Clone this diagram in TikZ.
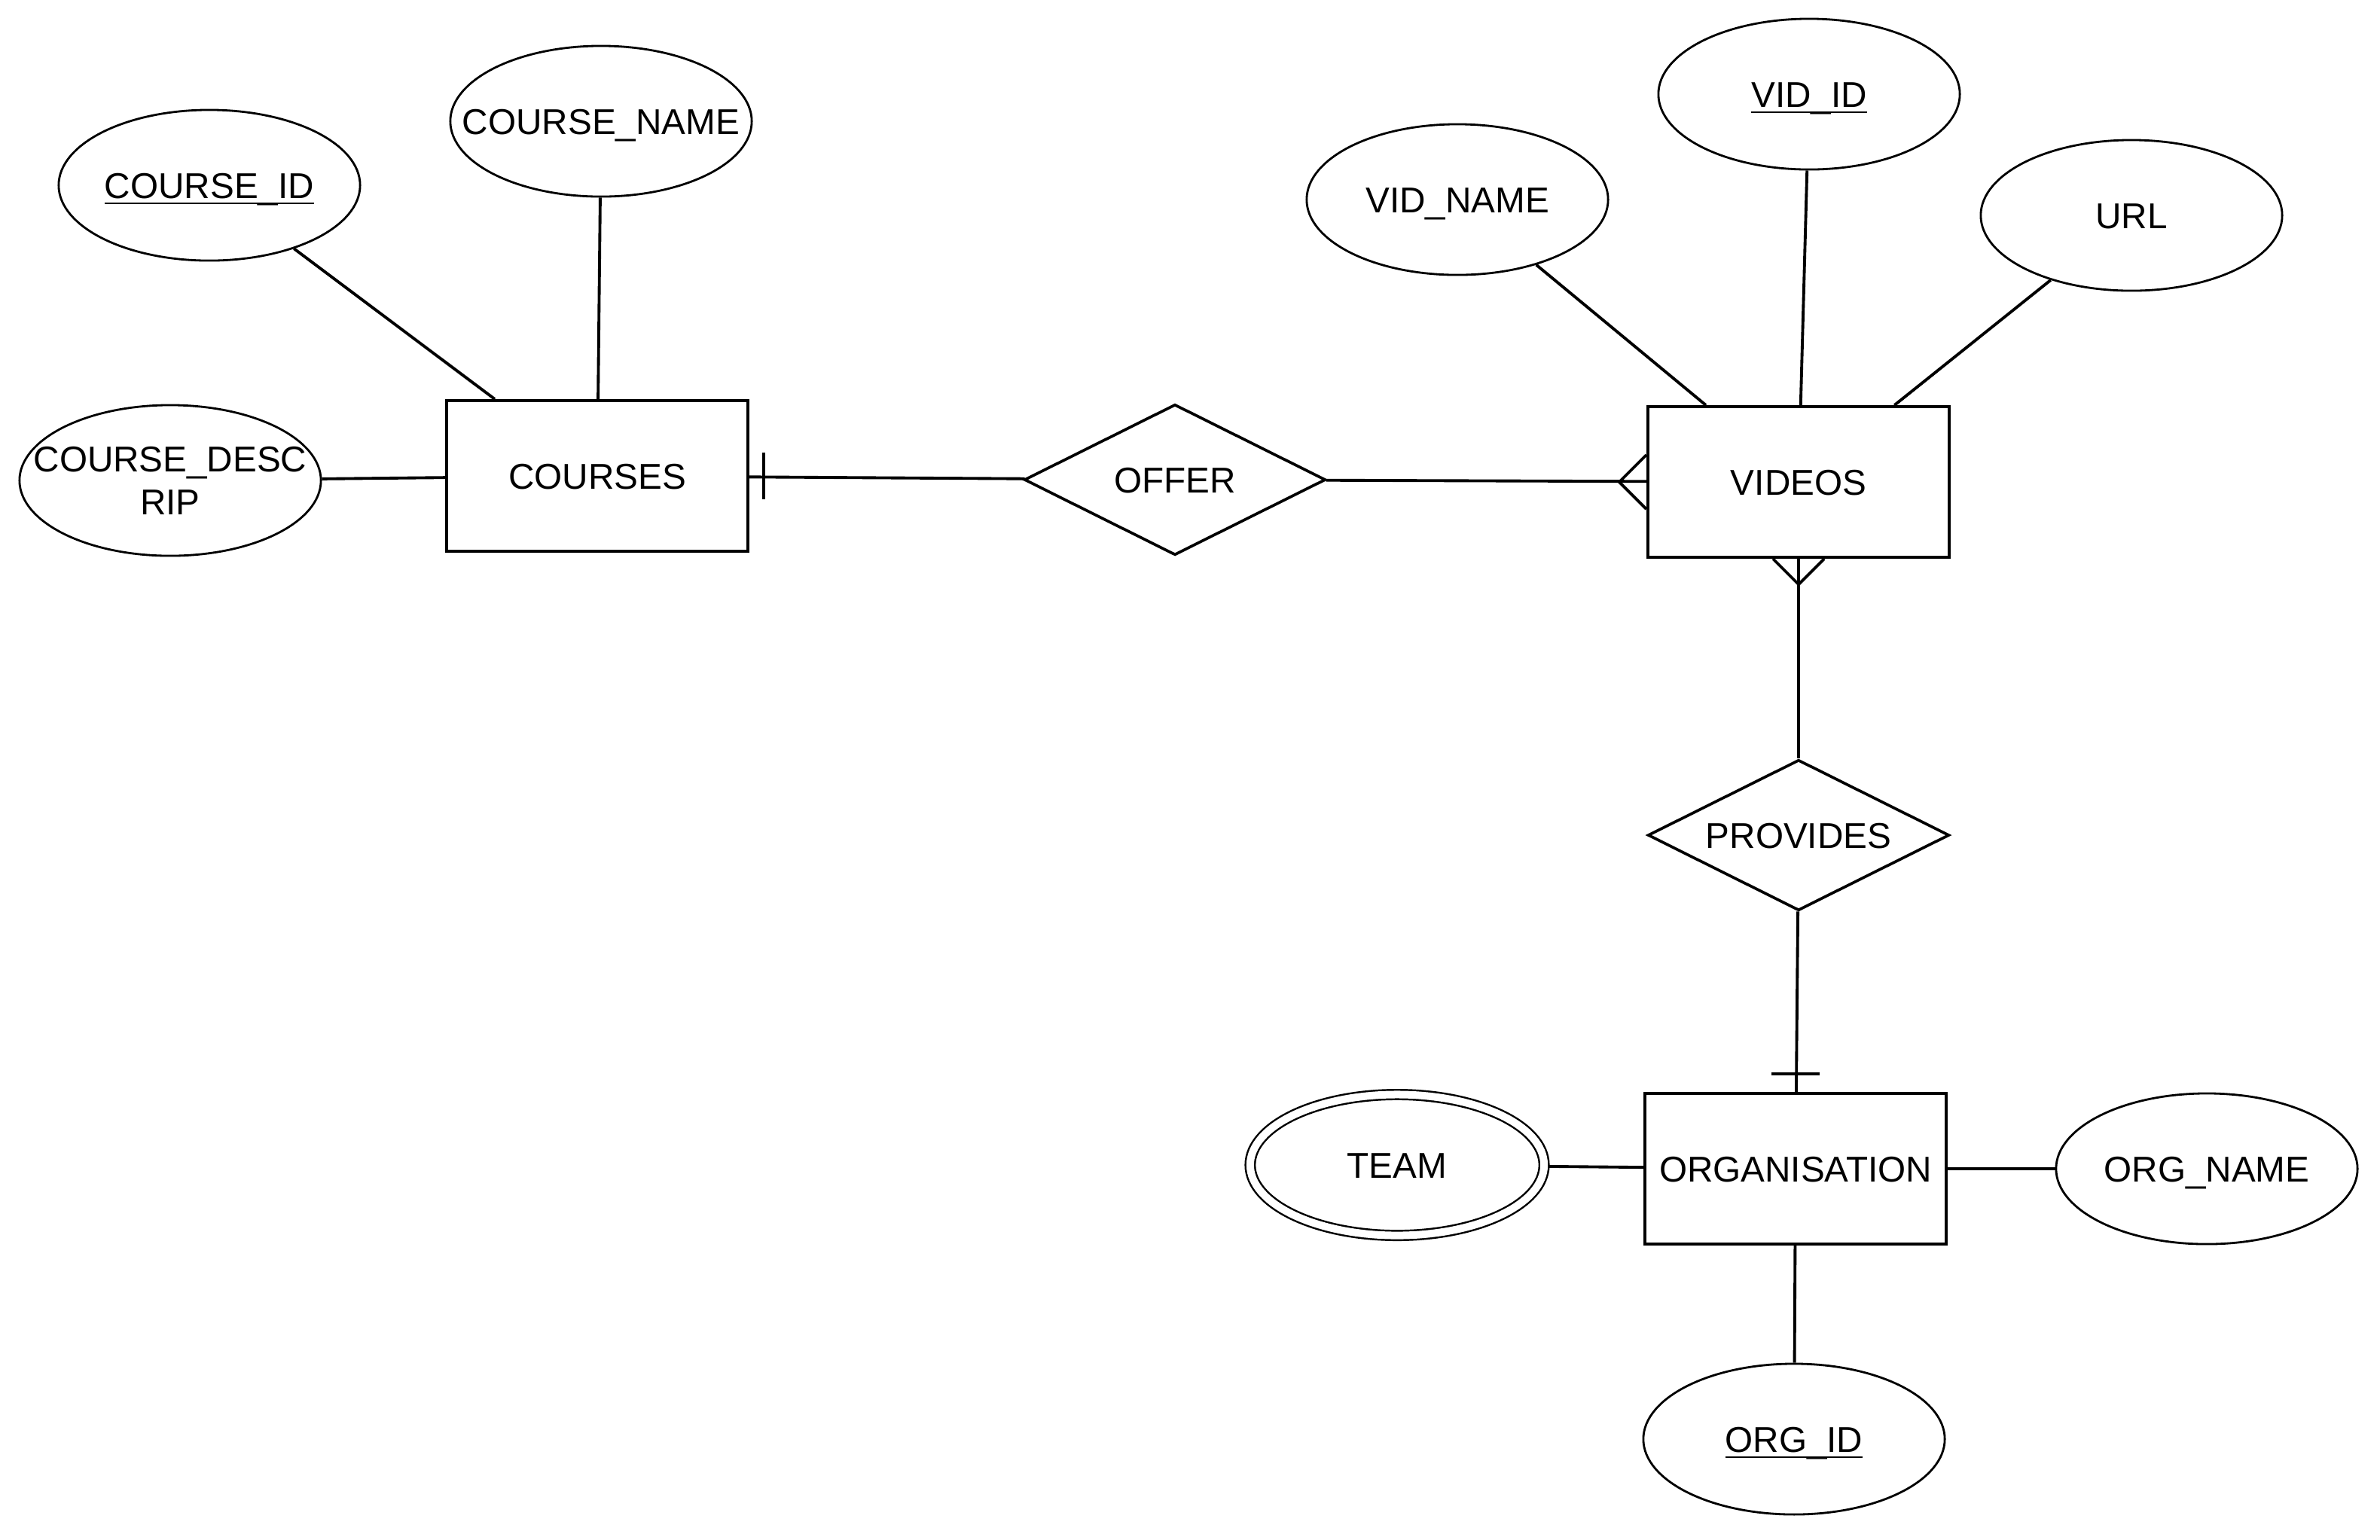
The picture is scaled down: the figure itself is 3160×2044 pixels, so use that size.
\documentclass[tikz,border=0pt]{standalone}
\usepackage{fontspec}
\setmainfont{Liberation Sans}
\usetikzlibrary{shapes.geometric,calc}
% zero-width centred box, so that long labels do not enlarge their shapes
\newcommand{\zbox}[1]{\makebox[0pt]{#1}}
% key attribute: text with a rule just under the baseline
\newcommand{\keyattr}[1]{\setbox0=\hbox{#1}\rlap{\rule[-0.17em]{\wd0}{0.055em}}\box0}
\begin{document}
\begin{tikzpicture}[x=0.01cm,y=-0.01cm,
  every node/.style={font=\fontsize{13.55}{16}\selectfont, inner sep=0pt,
    text height=9.7pt, text depth=0pt},
  entity/.style={draw, line width=1.1pt, minimum width=4cm, minimum height=2cm},
  relation/.style={draw, diamond, aspect=2, line width=1.05pt, minimum width=4cm, minimum height=2cm},
  attr/.style={draw, ellipse, line width=0.8pt, minimum width=4cm, minimum height=2cm},
  multiattr/.style={draw, ellipse, double, double distance=0.1cm, line width=0.7pt,
    minimum width=3.9cm, minimum height=1.87cm, outer sep=0.06cm},
  link/.style={line width=1.1pt},
]
\useasboundingbox (0,0) rectangle (3160,2044);

% entities and relationships
\node[entity] (courses) at (793,632) {COURSES};
\node[entity] (videos) at (2388,640) {VIDEOS};
\node[entity] (org) at (2384,1552) {ORGANISATION};
\node[relation] (offer) at (1560,637) {\zbox{OFFER}};
\node[relation] (provides) at (2388,1109) {\zbox{PROVIDES}};

% attributes
\node[attr] (cid) at (278,246) {\zbox{\keyattr{COURSE\_ID}}};
\node[attr] (cname) at (798,161) {\zbox{COURSE\_NAME}};
\node[attr, text depth=16pt] (cdesc) at (226,638)
  {\zbox{\begin{tabular}[t]{@{}c@{}}COURSE\_DESC\\RIP\end{tabular}}};
\node[attr] (vname) at (1935,265) {\zbox{VID\_NAME}};
\node[attr] (vidid) at (2402,125) {\zbox{\keyattr{VID\_ID}}};
\node[attr] (url) at (2830,286) {\zbox{URL}};
\node[multiattr] (team) at (1855,1547) {\zbox{TEAM}};
\node[attr] (oname) at (2930,1552) {\zbox{ORG\_NAME}};
\node[attr] (oid) at (2382,1911) {\zbox{\keyattr{ORG\_ID}}};

% attribute links
\draw[link] (cid) -- (courses);
\draw[link] (cname) -- (courses);
\draw[link] (cdesc) -- (courses);
\draw[link] (vname) -- (videos);
\draw[link] (vidid) -- (videos);
\draw[link] (url) -- (videos);
\draw[link] (team) -- (org);
\draw[link] (org) -- (oname);
\draw[link] (org) -- (oid);

% relationship links
\draw[link] (courses) -- (offer);
\draw[link] (offer) -- (videos);
\draw[link] (videos) -- (provides);
\draw[link] (provides) -- (org);

% cardinality marks: "one" bars
\draw[link] ($(courses.east)+(19,-31)$) -- ($(courses.east)+(19,31)$);
\draw[link] ($(org.north)+(-32,-24)$) -- ($(org.north)+(32,-24)$);

% cardinality marks: "many" crow's feet
\coordinate (forkw) at ($(videos.west)+(-36,0)$);
\draw[link] ($(videos.west)+(0,-36)$) -- (forkw) -- ($(videos.west)+(0,36)$);
\coordinate (forks) at ($(videos.south)+(0,34)$);
\draw[link] ($(videos.south)+(-34,0)$) -- (forks) -- ($(videos.south)+(34,0)$);
\end{tikzpicture}
\end{document}
